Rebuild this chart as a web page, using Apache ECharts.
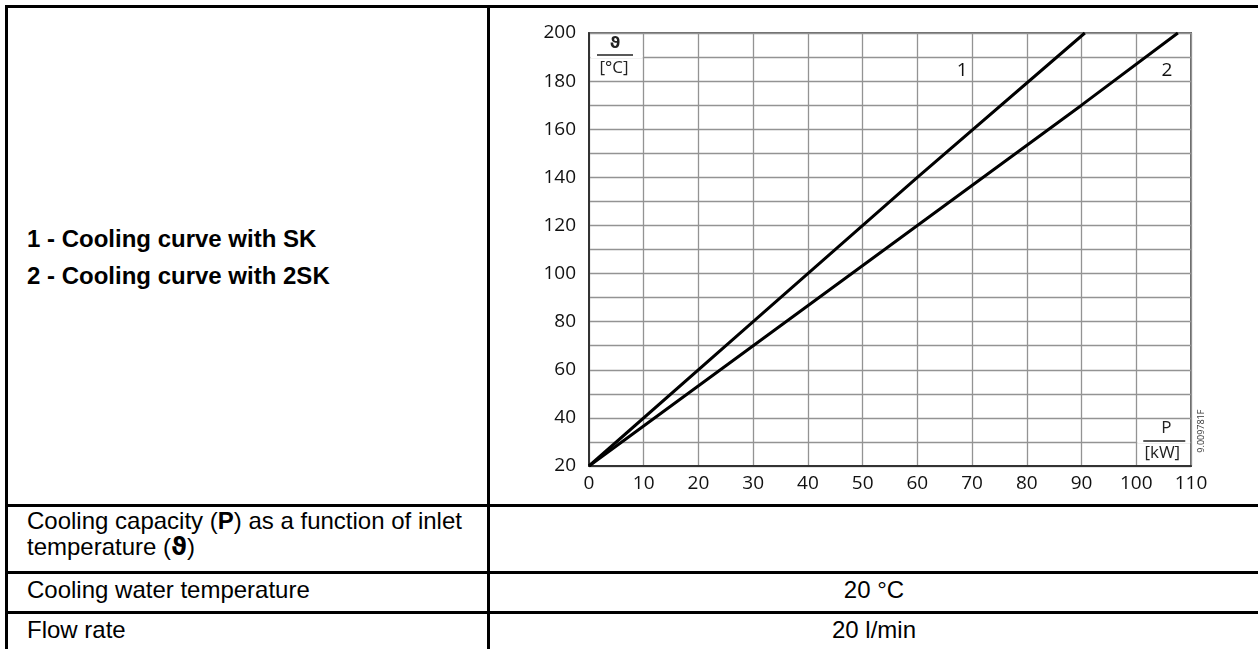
<!DOCTYPE html>
<html><head><meta charset="utf-8">
<script src="https://cdn.jsdelivr.net/npm/echarts@6/dist/echarts.min.js"></script>
<style>
html,body{margin:0;padding:0;background:#fff;width:1258px;height:649px;overflow:hidden;font-family:"Liberation Sans",Arial,sans-serif;color:#000}
.ln{position:absolute;background:#000}
.t{position:absolute;white-space:nowrap;font-size:24px;line-height:26px}
.b{font-weight:bold}
#chart{position:absolute;left:0;top:0;width:1258px;height:649px;z-index:2}
</style></head><body>
<div class="ln" style="left:5px;top:5px;width:1253px;height:3px"></div>
<div class="ln" style="left:5px;top:5px;width:3px;height:644px"></div>
<div class="ln" style="left:487px;top:5px;width:3px;height:644px"></div>
<div class="ln" style="left:5px;top:504px;width:1253px;height:3px"></div>
<div class="ln" style="left:5px;top:571px;width:1253px;height:3px"></div>
<div class="ln" style="left:5px;top:611px;width:1253px;height:3px"></div>

<div class="t b" style="left:27px;top:226px">1 - Cooling curve with SK</div>
<div class="t b" style="left:27px;top:263px">2 - Cooling curve with 2SK</div>
<div class="t" style="left:27px;top:508px">Cooling capacity (<b>P</b>) as a function of inlet<br>temperature (<b style="font-family:'DejaVu Sans'">ϑ</b>)</div>
<div class="t" style="left:27px;top:577px">Cooling water temperature</div>
<div class="t" style="left:27px;top:617px">Flow rate</div>
<div class="t" style="left:490px;width:768px;text-align:center;top:577px">20 °C</div>
<div class="t" style="left:490px;width:768px;text-align:center;top:617px">20 l/min</div>

<div id="chart"></div>
<script>
// Curve 1: cooling curve with SK  (P in kW, inlet temperature in °C)
const powerSK = [0, 30, 60, 90.6];
const thetaSK = [20, 80, 140, 200];
// Curve 2: cooling curve with 2SK
const power2SK = [0, 30, 60, 90, 107.6];
const theta2SK = [20, 70, 120, 170, 200];
const xTickLabels = [0, 10, 20, 30, 40, 50, 60, 70, 80, 90, 100, 110];
const yTickLabels = [20, 40, 60, 80, 100, 120, 140, 160, 180, 200];
const curveNames = ['1', '2'];
const curveLabelAt = [[68.2, 184.5], [105.6, 184.3]];
const drawingId = '9.009781F';

const zip = (xs, ys) => xs.map((x, i) => [x, ys[i]]);
const chart = echarts.init(document.getElementById('chart'), null, {renderer: 'canvas'});
const labelFont = {fontFamily: 'Open Sans', fontSize: 19, color: '#111'};

chart.setOption({
  animation: false,
  backgroundColor: 'transparent',
  grid: {left: 589, top: 33, right: 67, bottom: 183, show: true, borderColor: '#6a6a6a', borderWidth: 2, containLabel: false},
  xAxis: {
    type: 'value', min: 0, max: 110, interval: 10,
    axisLine: {show: true, onZero: false, lineStyle: {color: '#333', width: 2}},
    axisTick: {show: false},
    splitLine: {show: true, lineStyle: {color: '#939393', width: 1.3}},
    axisLabel: Object.assign({margin: 8, showMaxLabel: true, showMinLabel: true,
      formatter: v => xTickLabels.includes(v) ? String(v) : ''}, labelFont)
  },
  yAxis: {
    type: 'value', min: 20, max: 200, interval: 10,
    axisLine: {show: true, onZero: false, lineStyle: {color: '#333', width: 2}},
    axisTick: {show: false},
    splitLine: {show: true, lineStyle: {color: '#939393', width: 1.3}},
    axisLabel: Object.assign({margin: 13, showMaxLabel: true, showMinLabel: true,
      formatter: v => yTickLabels.includes(v) ? String(v) : ''}, labelFont)
  },
  series: [
    {name: curveNames[0], type: 'line', data: zip(powerSK, thetaSK), showSymbol: false, clip: true,
     lineStyle: {color: '#000', width: 3}, z: 5},
    {name: curveNames[1], type: 'line', data: zip(power2SK, theta2SK), showSymbol: false, clip: true,
     lineStyle: {color: '#000', width: 3}, z: 5}
  ]
});

const pt = (x, y) => chart.convertToPixel({gridIndex: 0}, [x, y]);
const g = [];
// ϑ / [°C] unit label in first column
const a0 = pt(0, 190), a10 = pt(10, 190);
g.push({type: 'rect', shape: {x: a0[0] + 1.5, y: a0[1] - 1.5, width: a10[0] - a0[0] - 2.5, height: 3}, style: {fill: '#fff'}, z: 10});
g.push({type: 'line', shape: {x1: a0[0] + 8, y1: a0[1] - 2, x2: a0[0] + 44, y2: a0[1] - 2}, style: {stroke: '#222', lineWidth: 1.5}, z: 11});
g.push({type: 'text', x: a0[0] + 26, y: a0[1] - 13, style: {text: 'ϑ', font: 'bold 16px "DejaVu Sans"', fill: '#222', align: 'center', verticalAlign: 'middle'}, z: 11});
g.push({type: 'text', x: a0[0] + 25, y: a0[1] + 11, style: {text: '[°C]', font: '17px "Open Sans"', fill: '#222', align: 'center', verticalAlign: 'middle'}, z: 11});
// P / [kW] unit label in last column
const b100 = pt(100, 30), b110 = pt(110, 30);
g.push({type: 'rect', shape: {x: b100[0] + 1, y: b100[1] - 1.5, width: b110[0] - b100[0] - 2, height: 3}, style: {fill: '#fff'}, z: 10});
g.push({type: 'line', shape: {x1: b100[0] + 7, y1: b100[1] - 1, x2: b100[0] + 49, y2: b100[1] - 1}, style: {stroke: '#222', lineWidth: 1.5}, z: 11});
g.push({type: 'text', x: b100[0] + 30, y: b100[1] - 14, style: {text: 'P', font: '17px "Open Sans"', fill: '#222', align: 'center', verticalAlign: 'middle'}, z: 11});
g.push({type: 'text', x: b100[0] + 26, y: b100[1] + 11, style: {text: '[kW]', font: '17px "Open Sans"', fill: '#222', align: 'center', verticalAlign: 'middle'}, z: 11});
// curve numbers
curveNames.forEach((n, i) => {
  const p = pt(curveLabelAt[i][0], curveLabelAt[i][1]);
  g.push({type: 'text', x: p[0], y: p[1], style: {text: n, font: '19px "Open Sans"', fill: '#111', align: 'center', verticalAlign: 'middle'}, z: 11});
});
// drawing id, rotated
const c = pt(110, 34.5);
g.push({type: 'text', x: c[0] + 10, y: c[1], rotation: Math.PI / 2, style: {text: drawingId, font: '9px "Open Sans"', fill: '#333', align: 'center', verticalAlign: 'middle'}, z: 11});
chart.setOption({graphic: g});
</script>
</body></html>
